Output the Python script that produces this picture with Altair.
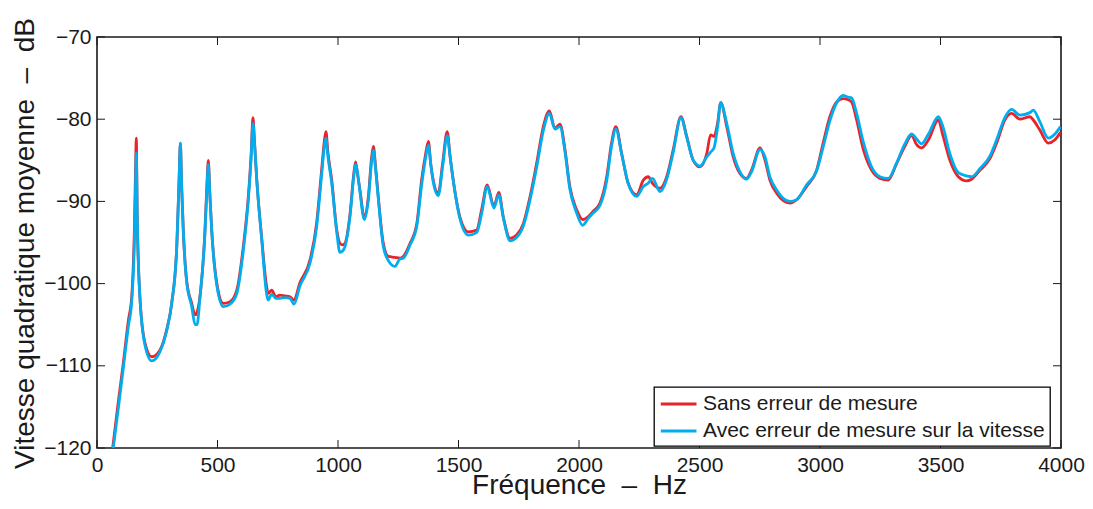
import altair as alt
import pandas as pd

# Frequency grid (Hz)
freq = [65, 90, 109, 130, 144, 155, 160, 163, 167, 178, 199, 227, 261, 289, 310, 331, 341, 346, 351, 358,
        372, 393, 407, 415, 427, 448, 456, 462, 468, 476, 497, 524, 552, 580, 607, 628, 640, 647, 654, 663,
        683, 704, 710, 725, 742, 759, 780, 801, 817, 842, 884, 911, 932, 944, 950, 958, 974, 995, 1008, 1020,
        1029, 1050, 1066, 1073, 1080, 1091, 1109, 1126, 1140, 1147, 1155, 1167, 1188, 1209, 1236, 1257, 1271, 1299, 1327, 1347,
        1362, 1375, 1385, 1395, 1416, 1434, 1453, 1465, 1478, 1506, 1541, 1575, 1596, 1619, 1647, 1667, 1686, 1714, 1741, 1769,
        1797, 1824, 1852, 1877, 1900, 1921, 1942, 1962, 1990, 2015, 2040, 2059, 2087, 2115, 2135, 2153, 2177, 2204, 2239, 2267,
        2287, 2305, 2336, 2364, 2391, 2423, 2447, 2474, 2502, 2530, 2546, 2560, 2575, 2588, 2613, 2640, 2668, 2695, 2716, 2751,
        2772, 2792, 2820, 2875, 2903, 2944, 2986, 3013, 3041, 3069, 3096, 3115, 3131, 3152, 3180, 3214, 3249, 3283, 3318, 3352,
        3380, 3401, 3421, 3450, 3491, 3511, 3539, 3574, 3608, 3629, 3664, 3705, 3733, 3767, 3795, 3829, 3871, 3885, 3912, 3947,
        3975, 3998]

# "Sans erreur de mesure" (dB)
sans_erreur = [-120, -114, -109.7, -104.5, -101.6, -93.5, -86, -82.3, -92, -101.6, -107.2, -108.9, -108.1, -105.6, -102.4, -95.5, -87, -82.9, -88, -93.5,
               -99.6, -102.4, -103.8, -103.5, -101.6, -93.5, -88, -85.0, -89, -93.5, -99.9, -102.4, -102.2, -100.8, -95.5, -89.4, -84, -79.8, -83, -87.4,
               -94.3, -100.4, -101.2, -100.8, -101.6, -101.4, -101.5, -101.6, -102.0, -99.9, -97.1, -92.7, -86.2, -82.5, -81.5, -84, -87.4, -93.5, -95.1, -95.3,
               -95.1, -91.5, -86.5, -85.2, -86.5, -88.6, -91.9, -89.4, -84.5, -83.3, -85.5, -89.4, -95.1, -96.7, -96.8, -96.9, -96.7, -95.1, -92.7, -87.4,
               -84.5, -82.7, -85.5, -87.4, -89.0, -85.4, -81.5, -84.5, -87.4, -91.9, -93.7, -93.5, -91.0, -88.0, -90.6, -88.9, -91.9, -94.5, -94.1, -92.7,
               -89.4, -85.4, -80.9, -79.0, -81.1, -80.6, -83.7, -88.2, -91.0, -92.2, -91.8, -91.2, -90.2, -87.0, -82.9, -80.9, -84.2, -87.8, -89.2, -87.4,
               -87.0, -87.8, -88.4, -87.0, -83.7, -79.7, -82.1, -85.0, -85.8, -84.2, -81.9, -82.1, -80.5, -78.0, -80.9, -84.6, -86.6, -87.2, -86.2, -83.5,
               -85.0, -87.4, -89.0, -90.2, -89.8, -88.2, -86.2, -82.9, -79.7, -77.9, -77.5, -77.6, -77.9, -80.1, -83.7, -86.2, -87.2, -87.4, -85.4, -83.3,
               -82.0, -83.1, -83.5, -82.5, -80.1, -82.1, -85.0, -87.0, -87.5, -87.3, -86.2, -84.8, -82.9, -80.1, -79.3, -80.0, -79.7, -80.1, -81.3, -82.9,
               -82.5, -81.6]

# "Avec erreur de mesure sur la vitesse" (dB)
avec_erreur = [-120.6, -114.8, -110.3, -105.2, -102.2, -95, -88, -84.1, -92, -101.6, -107.5, -109.4, -108.3, -105.8, -102.4, -95.5, -87, -82.9, -88, -93.5,
               -99.8, -102.8, -105.0, -105.0, -101.8, -93.8, -88.5, -85.5, -89, -93.5, -100.2, -102.8, -102.5, -101.2, -96, -89.8, -84.5, -80.5, -83, -87.4,
               -94.5, -101.3, -102.0, -101.3, -101.8, -101.8, -101.7, -101.8, -102.5, -100.3, -97.5, -93.2, -86.8, -83.2, -82.3, -84.5, -87.8, -93.8, -96.2, -96.0,
               -95.5, -91.8, -86.8, -85.5, -86.3, -88.8, -92.2, -89.8, -85, -83.8, -85.8, -89.6, -95.5, -97.2, -97.9, -97.0, -96.9, -95.3, -93.0, -88,
               -85, -83.2, -85.5, -87.6, -89.3, -85.8, -82.0, -84.5, -87.4, -92.1, -94.1, -93.8, -91.5, -88.2, -90.8, -89.2, -92.0, -94.8, -94.4, -93.0,
               -89.8, -85.9, -81.4, -79.3, -81.2, -80.9, -84.0, -88.5, -91.4, -92.9, -92.0, -91.4, -90.5, -87.5, -83.3, -81.2, -84.2, -87.8, -89.4, -88.2,
               -87.8, -87.2, -88.8, -87.3, -84.0, -79.8, -82.2, -85.0, -85.7, -84.6, -84.0, -83.5, -81.0, -78.0, -80.5, -84.2, -86.4, -87.3, -86.4, -83.7,
               -84.6, -87.0, -88.6, -90.0, -89.8, -88.0, -86.3, -83.4, -80.2, -78.0, -77.1, -77.3, -77.4, -79.3, -82.8, -85.8, -87.0, -87.2, -85.3, -83.0,
               -81.8, -82.4, -83.0, -81.8, -79.7, -81.0, -84.2, -86.5, -86.9, -87.0, -86.0, -84.5, -82.5, -79.8, -78.8, -79.5, -79.2, -78.9, -80.3, -82.3,
               -81.8, -80.9]

series_names = ["Sans erreur de mesure", "Avec erreur de mesure sur la vitesse"]
series_colors = ["#E8232B", "#00AEEF"]

x_ticks = [0, 500, 1000, 1500, 2000, 2500, 3000, 3500, 4000]
y_ticks = [-120, -110, -100, -90, -80, -70]

x_title = "Fréquence\u00a0\u00a0–\u00a0\u00a0Hz"
y_title = "Vitesse quadratique moyenne\u00a0\u00a0–\u00a0\u00a0dB"

df = pd.DataFrame({
    "f": freq * 2,
    "v": sans_erreur + avec_erreur,
    "serie": [series_names[0]] * len(freq) + [series_names[1]] * len(freq),
})

W, H = 964, 411
FONT = "Liberation Sans"
INK = "#1a1a1a"

xscale = alt.Scale(domain=[0, 4000], nice=False, zero=False)
yscale = alt.Scale(domain=[-120, -70], nice=False, zero=False)

color = alt.Color(
    "serie:N",
    scale=alt.Scale(domain=series_names, range=series_colors),
    legend=alt.Legend(
        title=None, orient="none", legendX=557, legendY=350,
        fillColor="white", strokeColor="black",
        padding=5, rowPadding=5, labelFontSize=21, labelFont=FONT,
        labelColor=INK, labelLimit=0, labelOffset=5,
        symbolType="M-2.4,0H1", symbolSize=441, symbolStrokeWidth=3,
        symbolOffset=15,
    ),
)

xaxis = alt.Axis(values=x_ticks, format="d", labelFontSize=21, labelFont=FONT, labelColor=INK,
                 tickSize=0, domain=False, grid=False, labelPadding=6, labelFlush=False,
                 title=x_title, titleFontSize=28, titleFont=FONT, titleFontWeight="normal",
                 titleColor=INK, titleBaseline="alphabetic", titleY=45)
yaxis = alt.Axis(values=y_ticks, format="d", labelFontSize=21, labelFont=FONT, labelColor=INK,
                 tickSize=0, domain=False, grid=False, labelPadding=6, labelFlush=False,
                 title=y_title, titleFontSize=28, titleFont=FONT,
                 titleFontWeight="normal", titleColor=INK, titleBaseline="alphabetic",
                 titleX=-64, titleY=206, titleAngle=270)

red_line = alt.Chart(df[df.serie == series_names[0]]).mark_line(
    strokeWidth=2.8, interpolate="monotone", clip=True
).encode(x=alt.X("f:Q", scale=xscale, axis=xaxis), y=alt.Y("v:Q", scale=yscale, axis=yaxis), color=color)

blue_line = alt.Chart(df[df.serie == series_names[1]]).mark_line(
    strokeWidth=2.8, interpolate="monotone", clip=True
).encode(x=alt.X("f:Q", scale=xscale), y=alt.Y("v:Q", scale=yscale), color=color)

xt = pd.DataFrame({"t": x_ticks})
yt = pd.DataFrame({"t": y_ticks})
TL = 8

bottom_ticks = alt.Chart(xt).mark_rule(color=INK, strokeWidth=1).encode(
    x=alt.X("t:Q", scale=xscale), y=alt.value(H), y2=alt.value(H - TL))
top_ticks = alt.Chart(xt).mark_rule(color=INK, strokeWidth=1).encode(
    x=alt.X("t:Q", scale=xscale), y=alt.value(0), y2=alt.value(TL))
left_ticks = alt.Chart(yt).mark_rule(color=INK, strokeWidth=1).encode(
    y=alt.Y("t:Q", scale=yscale), x=alt.value(0), x2=alt.value(TL))
right_ticks = alt.Chart(yt).mark_rule(color=INK, strokeWidth=1).encode(
    y=alt.Y("t:Q", scale=yscale), x=alt.value(W - TL), x2=alt.value(W))

chart = alt.layer(red_line, blue_line, bottom_ticks, top_ticks, left_ticks, right_ticks).properties(
    width=W, height=H,
    background="white",
    autosize=alt.AutoSizeParams(type="none"),
    padding={"left": 89, "top": 29, "right": 24, "bottom": 52},
).configure_view(stroke=INK, strokeWidth=1.6).configure_legend(strokeWidth=1.3)

chart.save("out.html", embed_options={"renderer": "svg", "actions": False})
